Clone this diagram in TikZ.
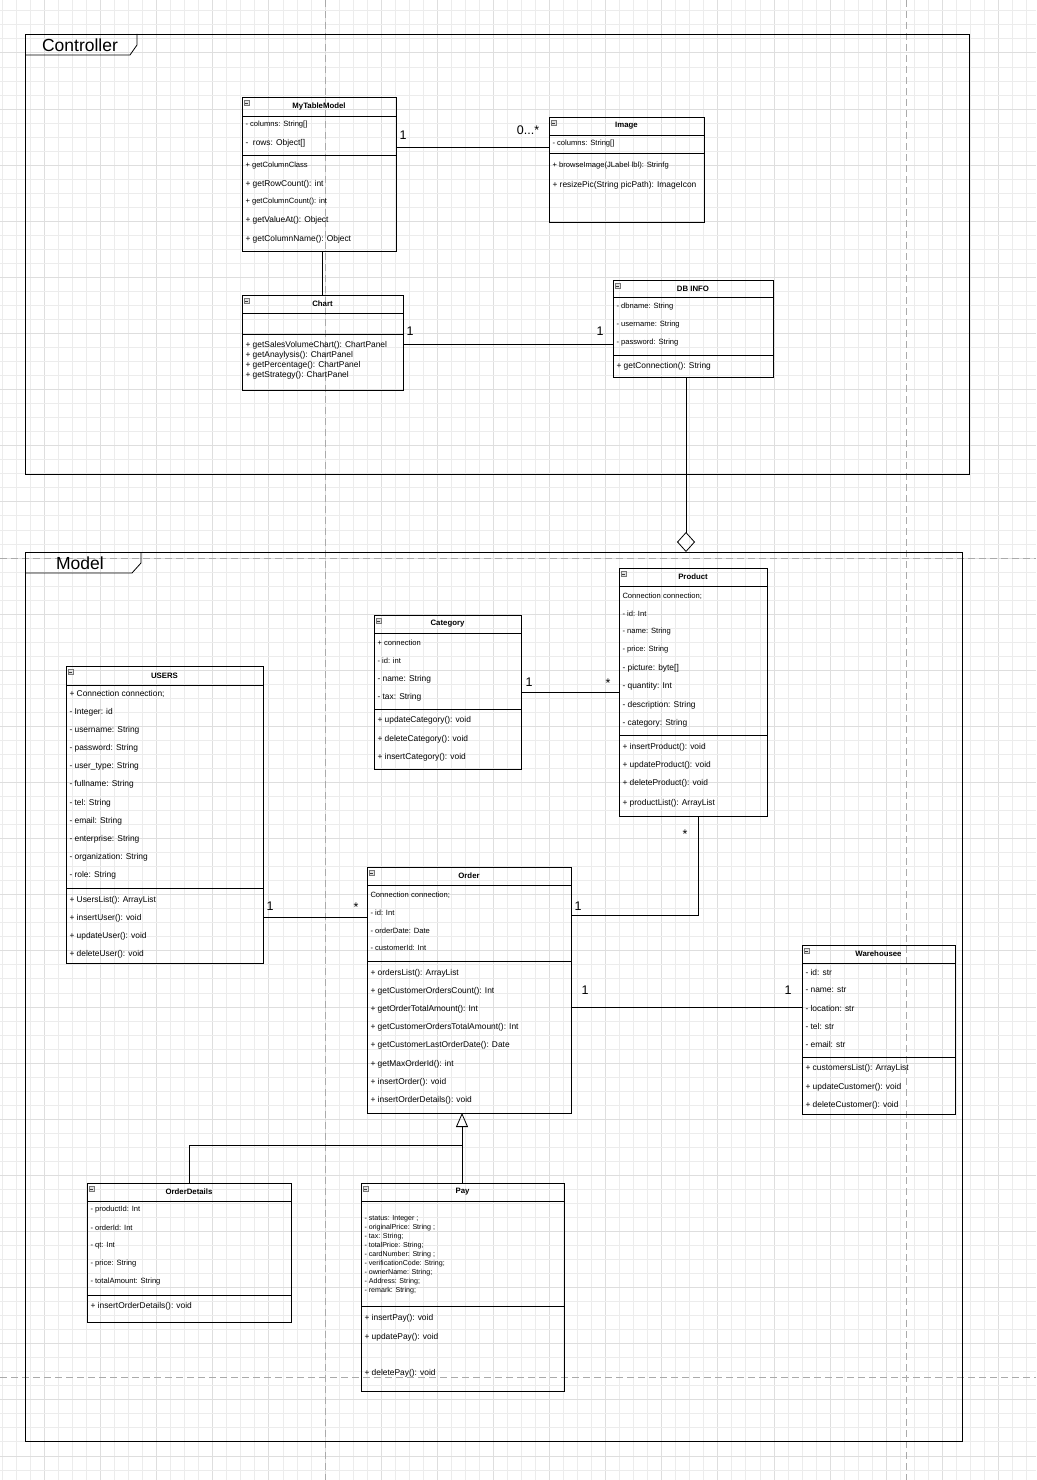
\documentclass[tikz,border=0pt]{standalone}
\usepackage{fontspec}
\setmainfont{Liberation Sans}
\usetikzlibrary{arrows.meta,calc}

\newcounter{mc}
\newcommand\fA{\fontsize{7.6}{8}\selectfont}
\newcommand\fB{\fontsize{8.4}{9}\selectfont}
\newcommand\fP{\fontsize{7.1}{8}\selectfont}
\newcommand\fT{\fontsize{7.8}{9}\selectfont\bfseries}
\newcommand\fM{\fontsize{12.5}{14}\selectfont}
\newcommand\fF{\fontsize{17.5}{20}\selectfont}

\tikzset{
  umlrect/.style={draw=black, line width=0.8pt, inner sep=0pt, outer sep=0pt, rectangle},
  umlline/.style={draw=black, line width=0.8pt},
  member/.style={anchor=west, inner sep=0pt, outer sep=0pt},
  umltitle/.style={inner sep=0pt, font=\fT},
  mult/.style={inner sep=0pt, font=\fM},
  conn/.style={draw=black, line width=0.8pt},
  gridminor/.style={draw={rgb,255:red,236;green,236;blue,236}, line width=0.8pt},
  gridmajor/.style={draw={rgb,255:red,222;green,222;blue,222}, line width=0.8pt},
  pagebreak/.style={draw={rgb,255:red,170;green,170;blue,170}, line width=0.9pt, dash pattern=on 7pt off 4pt},
  iconbox/.style={draw={rgb,255:red,120;green,120;blue,120}, fill={rgb,255:red,225;green,225;blue,225}, line width=0.4pt},
  iconbar/.style={draw={rgb,255:red,60;green,60;blue,60}, line width=0.5pt},
  framelabel/.style={inner sep=0pt, font=\fF},
}

% #1 name, #2 x1, #3 y1, #4 x2, #5 y2, #6 title, #7 header line y
\newcommand\umlbox[7]{%
  \pgfmathsetmacro\bw{#4-#2}\pgfmathsetmacro\bh{#5-#3}%
  \node[umlrect, minimum width=\bw pt, minimum height=\bh pt, anchor=north west] (#1) at (#2,#3) {};%
  \node[umltitle] (#1-title) at ({(#2+#4)/2},{(#3+#7)/2}) {#6};%
  \draw[umlline] (#1.west |- 0,#7) -- (#1.east |- 0,#7);%
  \draw[iconbox] (#2+2,#3+3.5) rectangle (#2+7,#3+8);%
  \draw[iconbar] (#2+3,#3+5.75) -- (#2+6,#3+5.75);%
}
% #1 box, #2 y, #3 font, #4 text
\newcommand\mem[4]{\stepcounter{mc}\node[member, font=#3] (m\arabic{mc}) at ($(#1.west |- 0,#2)+(3.5,0)$) {#4};}
\newcommand\sep[2]{\draw[umlline] (#1.west |- 0,#2) -- (#1.east |- 0,#2);}

\begin{document}
\begin{tikzpicture}[x=1pt, y=-1pt]
\useasboundingbox (0,0) rectangle (1036,1480);
\fill[white] (0,0) rectangle (1036,1480);

% grid
\foreach \i in {0,...,73}{%
  \pgfmathsetmacro\gx{2.3+\i*14.03}%
  \pgfmathtruncatemacro\gm{mod(\i,4)}%
  \ifnum\gm=3 \draw[gridmajor] (\gx,0) -- (\gx,1480);\else\draw[gridminor] (\gx,0) -- (\gx,1480);\fi
}
\foreach \i in {0,...,105}{%
  \pgfmathsetmacro\gy{10.8+\i*14.03}%
  \pgfmathtruncatemacro\gm{mod(\i,4)}%
  \ifnum\gm=3 \draw[gridmajor] (0,\gy) -- (1036,\gy);\else\draw[gridminor] (0,\gy) -- (1036,\gy);\fi
}
% page breaks
\draw[pagebreak] (325,0) -- (325,1480);
\draw[pagebreak] (906,0) -- (906,1480);
\draw[pagebreak] (0,558) -- (1036,558);
\draw[pagebreak] (0,1377) -- (1036,1377);

% frames
\node[umlrect, minimum width=944pt, minimum height=440pt, anchor=north west] (ctrl) at (25,34) {};
\draw[umlline] (25,55) -- (130,55) -- (137,45) -- (137,34);
\node[framelabel] (ctrl-label) at (80,45) {Controller};

\node[umlrect, minimum width=937pt, minimum height=889pt, anchor=north west] (model) at (25,552) {};
\draw[umlline] (25,573) -- (132,573) -- (141,563) -- (141,552);
\node[framelabel] (model-label) at (80,563) {Model};

% MyTableModel
\umlbox{mtm}{242}{97}{396}{251}{MyTableModel}{116}
\mem{mtm}{125}{\fA}{- columns: String[]}
\mem{mtm}{143}{\fB}{-\ \ rows: Object[]}
\sep{mtm}{155}
\mem{mtm}{166}{\fA}{+ getColumnClass}
\mem{mtm}{184}{\fB}{+ getRowCount(): int}
\mem{mtm}{202}{\fA}{+ getColumnCount(): int}
\mem{mtm}{220}{\fB}{+ getValueAt(): Object}
\mem{mtm}{239}{\fB}{+ getColumnName(): Object}

% Image
\umlbox{img}{549}{117}{704}{222}{Image}{135}
\mem{img}{144}{\fA}{- columns: String[]}
\sep{img}{153}
\mem{img}{166}{\fA}{+ browseImage(JLabel lbl): Strinfg}
\mem{img}{185}{\fB}{+ resizePic(String picPath): ImageIcon}

% Chart
\umlbox{chart}{242}{295}{403}{390}{Chart}{313}
\sep{chart}{334}
\mem{chart}{345}{\fB}{+ getSalesVolumeChart(): ChartPanel}
\mem{chart}{355}{\fB}{+ getAnaylysis(): ChartPanel}
\mem{chart}{365}{\fB}{+ getPercentage(): ChartPanel}
\mem{chart}{375}{\fB}{+ getStrategy(): ChartPanel}

% DB INFO
\umlbox{db}{613}{280}{773}{377}{DB INFO}{297}
\mem{db}{307}{\fA}{- dbname: String}
\mem{db}{325}{\fA}{- username: String}
\mem{db}{343}{\fA}{- password: String}
\sep{db}{355}
\mem{db}{366}{\fB}{+ getConnection(): String}

% Category
\umlbox{cat}{374}{615}{521}{769}{Category}{633}
\mem{cat}{643}{\fA}{+ connection}
\mem{cat}{661}{\fA}{- id: int}
\mem{cat}{679}{\fB}{- name: String}
\mem{cat}{697}{\fB}{- tax: String}
\sep{cat}{709}
\mem{cat}{720}{\fB}{+ updateCategory(): void}
\mem{cat}{739}{\fB}{+ deleteCategory(): void}
\mem{cat}{757}{\fB}{+ insertCategory(): void}

% Product
\umlbox{prod}{619}{568}{767}{816}{Product}{586}
\mem{prod}{596}{\fA}{Connection connection;}
\mem{prod}{614}{\fA}{- id: Int}
\mem{prod}{632}{\fA}{- name: String}
\mem{prod}{650}{\fA}{- price: String}
\mem{prod}{668}{\fB}{- picture: byte[]}
\mem{prod}{686}{\fB}{- quantity: Int}
\mem{prod}{705}{\fB}{- description: String}
\mem{prod}{723}{\fB}{- category: String}
\sep{prod}{735}
\mem{prod}{747}{\fB}{+ insertProduct(): void}
\mem{prod}{765}{\fB}{+ updateProduct(): void}
\mem{prod}{783}{\fB}{+ deleteProduct(): void}
\mem{prod}{803}{\fB}{+ productList(): ArrayList}

% USERS
\umlbox{users}{66}{666}{263}{963}{USERS}{685}
\mem{users}{694}{\fB}{+ Connection connection;}
\mem{users}{712}{\fB}{- Integer: id}
\mem{users}{730}{\fB}{- username: String}
\mem{users}{748}{\fB}{- password: String}
\mem{users}{766}{\fB}{- user\_type: String}
\mem{users}{784}{\fB}{- fullname: String}
\mem{users}{803}{\fB}{- tel: String}
\mem{users}{821}{\fB}{- email: String}
\mem{users}{839}{\fB}{- enterprise: String}
\mem{users}{857}{\fB}{- organization: String}
\mem{users}{875}{\fB}{- role: String}
\sep{users}{888}
\mem{users}{900}{\fB}{+ UsersList(): ArrayList}
\mem{users}{918}{\fB}{+ insertUser(): void}
\mem{users}{936}{\fB}{+ updateUser(): void}
\mem{users}{954}{\fB}{+ deleteUser(): void}

% Order
\umlbox{ord}{367}{867}{571}{1113}{Order}{885}
\mem{ord}{895}{\fA}{Connection connection;}
\mem{ord}{913}{\fA}{- id: Int}
\mem{ord}{931}{\fA}{- orderDate: Date}
\mem{ord}{948}{\fA}{- customerId: Int}
\sep{ord}{961}
\mem{ord}{973}{\fB}{+ ordersList(): ArrayList}
\mem{ord}{991}{\fB}{+ getCustomerOrdersCount(): Int}
\mem{ord}{1009}{\fB}{+ getOrderTotalAmount(): Int}
\mem{ord}{1027}{\fB}{+ getCustomerOrdersTotalAmount(): Int}
\mem{ord}{1045}{\fB}{+ getCustomerLastOrderDate(): Date}
\mem{ord}{1064}{\fB}{+ getMaxOrderId(): int}
\mem{ord}{1082}{\fB}{+ insertOrder(): void}
\mem{ord}{1100}{\fB}{+ insertOrderDetails(): void}

% Warehousee
\umlbox{wh}{802}{945}{955}{1114}{Warehousee}{963}
\mem{wh}{972}{\fB}{- id: str}
\mem{wh}{990}{\fB}{- name: str}
\mem{wh}{1008}{\fB}{- location: str}
\mem{wh}{1026}{\fB}{- tel: str}
\mem{wh}{1044}{\fB}{- email: str}
\sep{wh}{1057}
\mem{wh}{1068}{\fB}{+ customersList(): ArrayList}
\mem{wh}{1087}{\fB}{+ updateCustomer(): void}
\mem{wh}{1105}{\fB}{+ deleteCustomer(): void}

% OrderDetails
\umlbox{od}{87}{1183}{291}{1322}{OrderDetails}{1201}
\mem{od}{1210}{\fA}{- productId: Int}
\mem{od}{1228}{\fA}{- orderId: Int}
\mem{od}{1246}{\fA}{- qt: Int}
\mem{od}{1264}{\fA}{- price: String}
\mem{od}{1282}{\fA}{- totalAmount: String}
\sep{od}{1295}
\mem{od}{1306}{\fB}{+ insertOrderDetails(): void}

% Pay
\umlbox{pay}{361}{1183}{564}{1391}{Pay}{1201}
\mem{pay}{1219}{\fP}{- status: Integer ;}
\mem{pay}{1228}{\fP}{- originalPrice: String ;}
\mem{pay}{1237}{\fP}{- tax: String;}
\mem{pay}{1246}{\fP}{- totalPrice: String;}
\mem{pay}{1255}{\fP}{- cardNumber: String ;}
\mem{pay}{1264}{\fP}{- verificationCode: String;}
\mem{pay}{1273}{\fP}{- ownerName: String;}
\mem{pay}{1282}{\fP}{- Address: String;}
\mem{pay}{1291}{\fP}{- remark: String;}
\sep{pay}{1306}
\mem{pay}{1318}{\fB}{+ insertPay(): void}
\mem{pay}{1337}{\fB}{+ updatePay(): void}
\mem{pay}{1373}{\fB}{+ deletePay(): void}

% connectors
\draw[conn] (mtm.east |- 0,147) -- (img.west |- 0,147);
\node[mult] (l1) at (403,135) {1};
\node[mult] (l2) at (528,130) {0...*};

\draw[conn] (mtm.south -| 322,0) -- (chart.north -| 322,0);

\draw[conn] (chart.east |- 0,344) -- (db.west |- 0,344);
\node[mult] (l3) at (410,331) {1};
\node[mult] (l4) at (600,331) {1};

\draw[conn, -{Diamond[open, length=20pt, width=18pt, line width=0.8pt]}] (db.south -| 686,0) -- (model.north -| 686,0);

\draw[conn] (cat.east |- 0,692) -- (prod.west |- 0,692);
\node[mult] (l5) at (529,682) {1};
\node[mult] (l6) at (608,683) {*};

\draw[conn] (users.east |- 0,917) -- (ord.west |- 0,917);
\node[mult] (l7) at (270,906) {1};
\node[mult] (l8) at (356,907) {*};

\draw[conn] (ord.east |- 0,910) -- (ord.east |- 0,915) -| (prod.south -| 698,0);
\node[mult] (l9) at (578,906) {1};
\node[mult] (l10) at (685,834) {*};

\draw[conn] (ord.east |- 0,990) -- (ord.east |- 0,1007) -- (wh.west |- 0,1007);
\node[mult] (l11) at (585,990) {1};
\node[mult] (l12) at (788,990) {1};

\draw[conn, -{Triangle[open, length=14pt, width=12pt, line width=0.8pt]}] (pay.north -| 462,0) -- (ord.south -| 462,0);
\draw[conn] (od.north -| 189,0) |- (462,1145);

\end{tikzpicture}
\end{document}
